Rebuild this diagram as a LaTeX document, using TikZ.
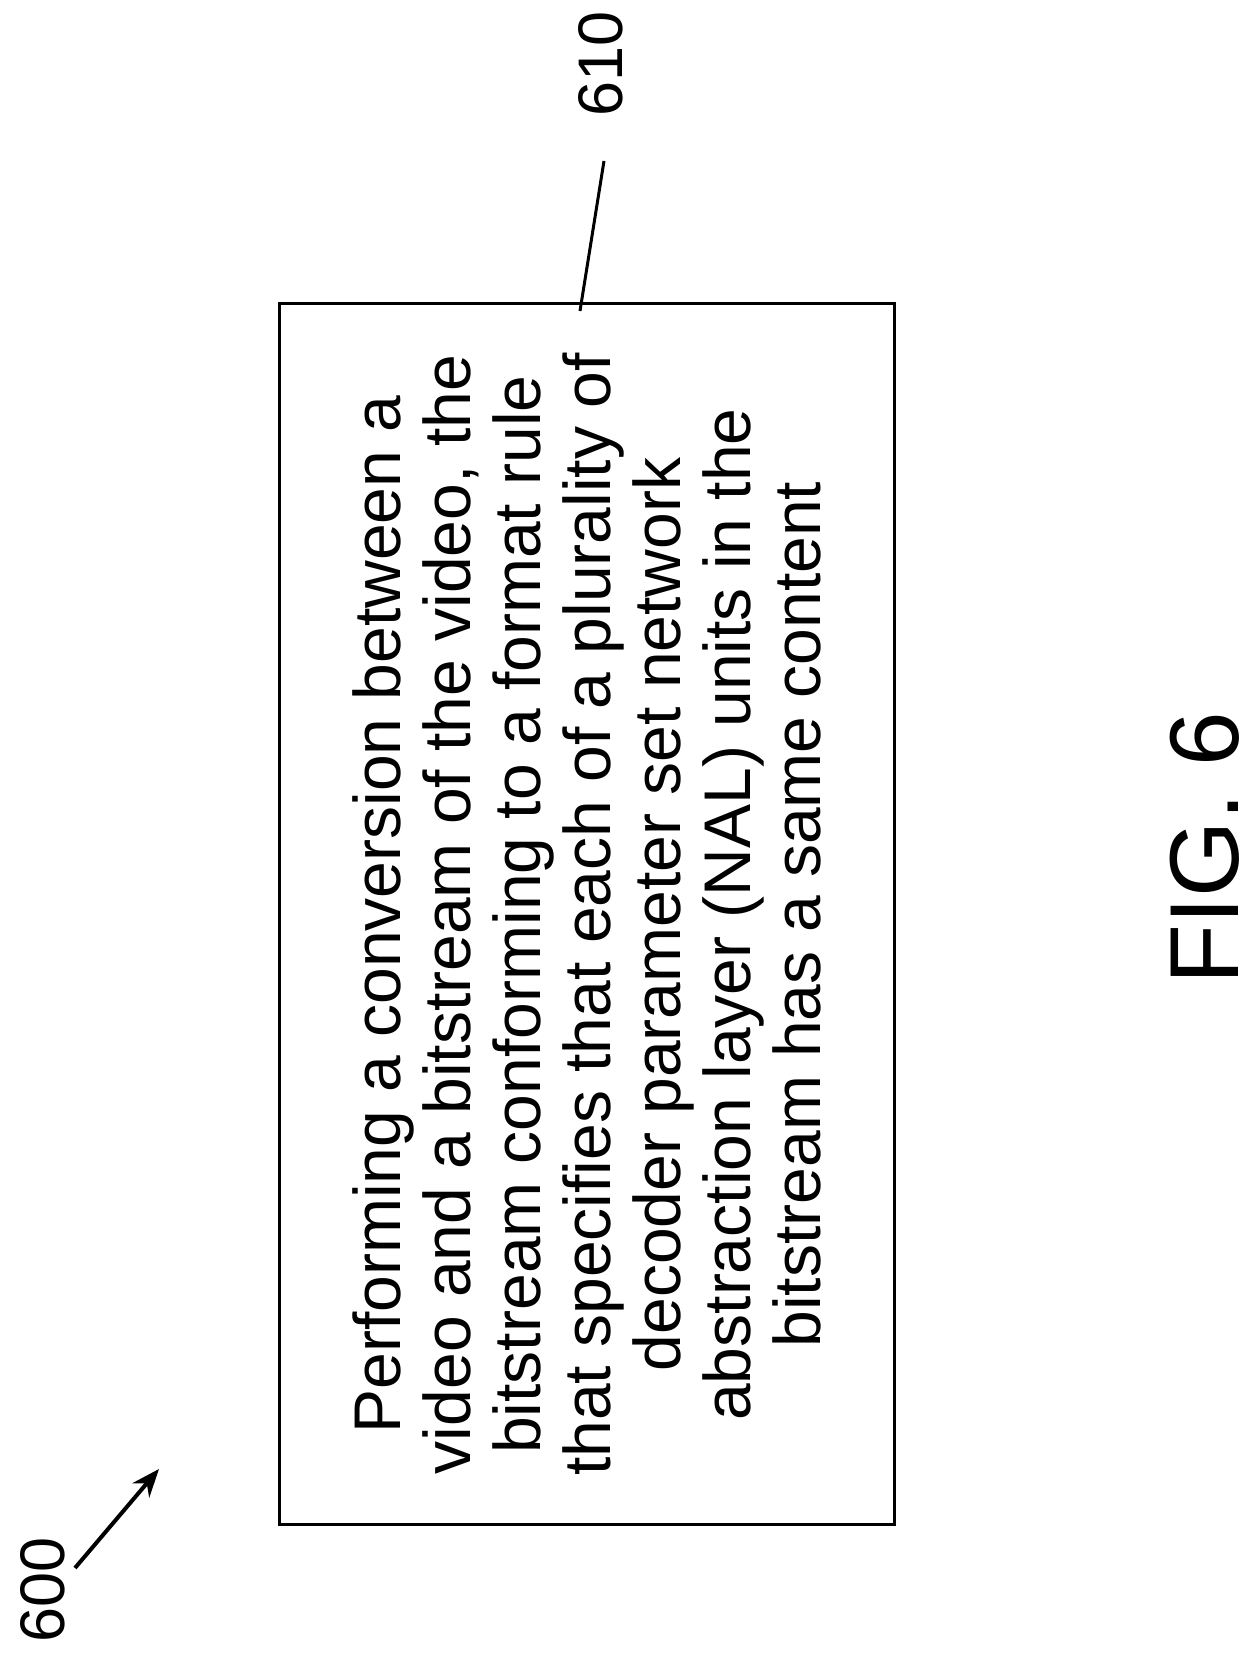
\documentclass[tikz,border=0pt]{standalone}
\usepackage{fontspec}
\setmainfont{Liberation Sans}
\usetikzlibrary{positioning, arrows.meta}
\tikzset{
  stepbox/.style={draw, line width=3pt, minimum width=1221pt, minimum height=615pt, rotate=90},
  reflabel/.style={font=\fontsize{63}{63}\selectfont, rotate=90}
}
\begin{document}
\begin{tikzpicture}[x=1pt,y=1pt]
  \useasboundingbox (0,0) rectangle (1257,1680);
  \node[stepbox] (box) at (586.5,765.5) {};
  \node[rotate=90, align=center, font=\fontsize{66}{70}\selectfont] (txt) at (box.center)
    {Performing a conversion between a\\ video and a bitstream of the video, the\\ bitstream conforming to a format rule\\ that specifies that each of a plurality of\\ decoder parameter set network\\ abstraction layer (NAL) units in the\\ bitstream has a same content};
  \node[reflabel] (l610) at (601,1616) {610};
  \coordinate (t610) at (604,1519);
  \draw[line width=3pt] (580,1369) -- (t610);
  \node[reflabel] (l600) at (43,90) {600};
  \coordinate (a600) at (75,112);
  \draw[line width=4pt, -{Stealth[length=28pt,width=22pt]}] (a600) -- (159,211);
  \node[rotate=90, font=\fontsize{98}{98}\selectfont] (fig) at (1205,832) {FIG. 6};
\end{tikzpicture}
\end{document}
